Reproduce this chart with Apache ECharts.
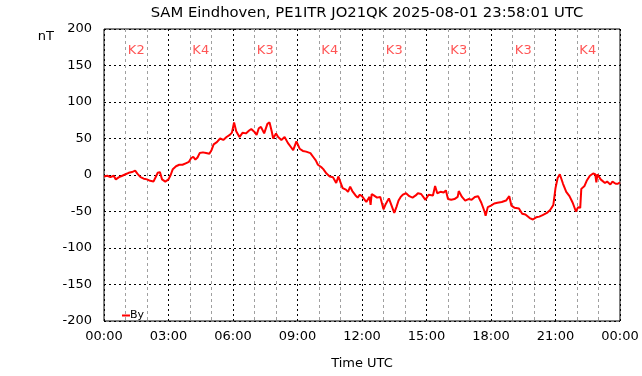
<!DOCTYPE html>
<html>
<head>
<meta charset="utf-8">
<script src="https://cdn.jsdelivr.net/npm/echarts@6/dist/echarts.min.js"></script>
<style>
  html, body { margin: 0; padding: 0; background: #fff; }
  #chart { width: 642px; height: 376px; }
</style>
</head>
<body>
<div id="chart"></div>
<script>
// time in hours (UTC) and By in nT
const byHours = [
  0.00, 0.15, 0.30, 0.45, 0.55, 0.70, 0.85, 1.00, 1.15, 1.30, 1.45, 1.55, 1.70, 1.85, 2.00, 2.15, 2.30, 2.40, 2.50, 2.60,
  2.70, 2.85, 3.00, 3.10, 3.20, 3.35, 3.50, 3.65, 3.80, 3.95, 4.05, 4.15, 4.25, 4.35, 4.45, 4.60, 4.75, 4.90, 5.00, 5.10,
  5.25, 5.40, 5.55, 5.70, 5.85, 5.95, 6.05, 6.15, 6.30, 6.45, 6.60, 6.75, 6.85, 7.00, 7.10, 7.20, 7.30, 7.45, 7.60, 7.70,
  7.80, 7.87, 8.00, 8.10, 8.25, 8.40, 8.55, 8.70, 8.80, 8.95, 9.10, 9.25, 9.40, 9.60, 9.75, 9.85, 9.95, 10.10, 10.20, 10.35,
  10.50, 10.65, 10.80, 10.90, 11.00, 11.10, 11.25, 11.35, 11.45, 11.55, 11.70, 11.80, 11.90, 12.00, 12.10, 12.20, 12.35, 12.40, 12.45, 12.55,
  12.70, 12.85, 13.00, 13.10, 13.25, 13.35, 13.50, 13.60, 13.70, 13.80, 13.90, 14.05, 14.20, 14.35, 14.50, 14.60, 14.75, 14.95, 15.10, 15.30,
  15.40, 15.50, 15.65, 15.80, 15.90, 16.00, 16.15, 16.30, 16.45, 16.50, 16.65, 16.80, 16.95, 17.10, 17.25, 17.40, 17.55, 17.70, 17.75, 17.85,
  18.00, 18.15, 18.30, 18.50, 18.70, 18.85, 18.95, 19.10, 19.30, 19.45, 19.60, 19.80, 19.95, 20.10, 20.25, 20.40, 20.60, 20.75, 20.90, 21.00,
  21.10, 21.20, 21.35, 21.50, 21.65, 21.80, 21.95, 22.05, 22.15, 22.20, 22.35, 22.45, 22.60, 22.75, 22.85, 22.90, 22.95, 23.10, 23.30, 23.40,
  23.55, 23.65, 23.80, 23.90, 24.00
];
const byValues = [
  -2, -1, -3, -1, -6, -3, -1, 1, 3, 4, 6, 2, -3, -5, -6, -8, -9, -3, 3, 4,
  -6, -9, -6, 0, 8, 12, 14, 14, 16, 18, 23, 25, 21, 24, 30, 31, 30, 29, 34, 42,
  45, 50, 48, 52, 55, 58, 72, 60, 52, 58, 57, 61, 63, 59, 55, 64, 66, 57, 70, 72,
  60, 50, 57, 52, 48, 52, 44, 38, 34, 46, 36, 33, 32, 30, 24, 20, 14, 11, 8, 2,
  -2, -3, -11, -2, -10, -18, -20, -23, -16, -22, -28, -31, -27, -29, -33, -37, -30, -41, -26, -28,
  -31, -30, -47, -40, -32, -40, -52, -44, -35, -30, -27, -25, -29, -31, -28, -25, -26, -34, -27, -28,
  -15, -25, -23, -24, -21, -33, -34, -33, -30, -22, -30, -35, -33, -34, -30, -29, -38, -50, -56, -44,
  -42, -39, -38, -37, -35, -29, -42, -45, -46, -53, -54, -59, -61, -58, -57, -55, -52, -48, -41, -18,
  -4, 1, -12, -23, -29, -38, -50, -44, -45, -19, -15, -8, -1, 2, 1, -10, 1, -6, -11, -9,
  -13, -9, -12, -12, -10
];
// K index per 3-hour block
const kHours = [1.5, 4.5, 7.5, 10.5, 13.5, 16.5, 19.5, 22.5];
const kLabels = ['K2', 'K4', 'K3', 'K4', 'K3', 'K3', 'K3', 'K4'];
const kLevel = 171;

const font = 'DejaVu Sans';
const chart = echarts.init(document.getElementById('chart'));

const lineData = byHours.map((h, i) => [h, byValues[i]]);
const kData = kHours.map((h, i) => ({ value: [h, kLevel], name: kLabels[i] }));

chart.setOption({
  animation: false,
  backgroundColor: '#fff',
  textStyle: { fontFamily: font },
  title: {
    text: 'SAM Eindhoven, PE1ITR JO21QK 2025-08-01 23:58:01 UTC',
    left: 362,
    textAlign: 'center',
    top: 1,
    textStyle: { fontFamily: font, fontSize: 14.8, fontWeight: 'normal', color: '#000' }
  },
  grid: {
    left: 104, right: 22, top: 29, bottom: 55,
    outerBoundsMode: 'none',
    containLabel: false,
    show: true, borderColor: '#000', borderWidth: 1
  },
  legend: {
    left: 117, top: 305,
    icon: 'rect', itemWidth: 8, itemHeight: 2, itemGap: 0,
    textStyle: { fontFamily: font, fontSize: 11, color: '#000', padding: [0, 0, 0, -5] },
    data: ['By']
  },
  xAxis: {
    type: 'value',
    min: 0, max: 24, interval: 3,
    name: 'Time UTC',
    nameLocation: 'middle',
    nameGap: 36,
    nameTextStyle: { fontFamily: font, fontSize: 13, color: '#000' },
    axisLine: { show: false },
    axisTick: { show: false },
    axisLabel: {
      margin: 9, fontFamily: font, fontSize: 13, color: '#000',
      formatter: v => String(v % 24).padStart(2, '0') + ':00'
    },
    splitLine: { show: true, lineStyle: { color: '#000', type: [2, 3], width: 1 } },
    minorTick: { show: false, splitNumber: 3 },
    minorSplitLine: { show: true, lineStyle: { color: '#a0a0a0', type: [3, 3], width: 1 } }
  },
  yAxis: {
    type: 'value',
    min: -200, max: 200, interval: 50,
    name: 'nT',
    nameLocation: 'end',
    nameGap: 0,
    nameTextStyle: { fontFamily: font, fontSize: 13, color: '#000', align: 'right', padding: [0, 50, -14, 0] },
    axisLine: { show: false },
    axisTick: { show: false },
    axisLabel: { margin: 12, fontFamily: font, fontSize: 13, color: '#000' },
    splitLine: { show: true, lineStyle: { color: '#000', type: [2, 3], width: 1 } }
  },
  series: [
    {
      name: 'By',
      type: 'line',
      data: lineData,
      showSymbol: false,
      symbol: 'none',
      color: '#ff0000',
      lineStyle: { color: '#ff0000', width: 2 },
      z: 3
    },
    {
      name: 'K',
      type: 'scatter',
      data: kData,
      symbolSize: 0,
      silent: true,
      label: {
        show: true,
        position: 'inside',
        formatter: p => p.name,
        fontFamily: font,
        fontSize: 13,
        color: '#ff2a2a'
      },
      z: 4
    }
  ]
});
</script>
</body>
</html>
